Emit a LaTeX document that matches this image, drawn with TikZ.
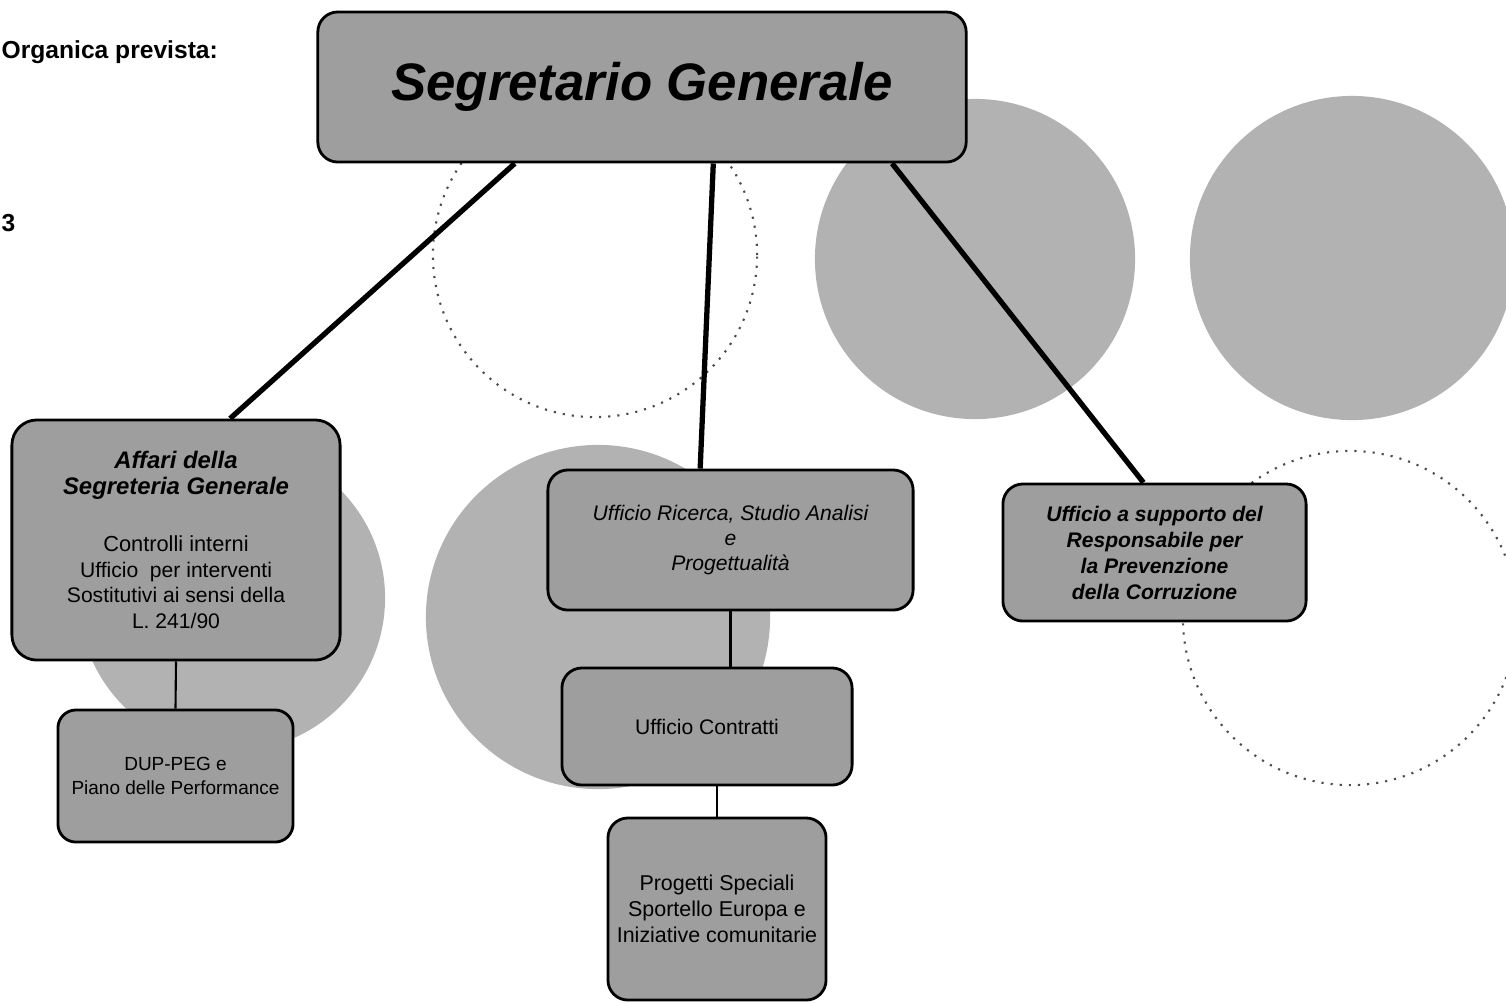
\documentclass[tikz,border=0pt]{standalone}
\usepackage{fontspec}
\setmainfont{Liberation Sans}
\begin{document}
\begin{tikzpicture}[x=0.01cm,y=-0.01cm,
    orgbox/.style={draw,line width=0.8pt,fill=black!38,rounded corners=0.2cm,
      align=center,inner sep=2pt,font=\fontsize{6}{7.3}\selectfont},
    clipart/.style={fill=black!30},
    emptyart/.style={draw=black!70,dotted,line width=0.6pt},
    mainlink/.style={line width=1.5pt},
    sublink/.style={line width=0.6pt}]
  \useasboundingbox (0,0) rectangle (1506,1002);
  \clip (0,0) rectangle (1506,1002);
  \node[anchor=west,inner sep=0pt,font=\bfseries\fontsize{7}{8}\selectfont] (orgtitle) at (1,52) {Organica prevista:};
  \node[anchor=west,inner sep=0pt,font=\bfseries\fontsize{7}{8}\selectfont] (cutnum) at (1,223) {3};
  \draw[emptyart] (595,255) circle (1.62cm);
  \draw[emptyart] (1350,618) circle (1.67cm);
  \fill[clipart] (975,259) circle (1.60cm);
  \fill[clipart] (1352,258) circle (1.62cm);
  \fill[clipart] (598,617) circle (1.72cm);
  \fill[clipart] (232,598) circle (1.53cm);
  \node[orgbox,minimum width=6.48cm,minimum height=1.50cm,
    font=\bfseries\itshape\fontsize{15}{18}\selectfont] (sg) at (642,87) {Segretario Generale};
  \node[orgbox,minimum width=3.28cm,minimum height=2.40cm,rounded corners=0.25cm] (aff) at (176,540)
    {\bfseries\itshape\fontsize{6.8}{8}\selectfont Affari della\\
     \bfseries\itshape\fontsize{6.8}{8}\selectfont Segreteria Generale\\[9pt]
     \mdseries\upshape\fontsize{6.2}{7.1}\selectfont Controlli interni\\
     Ufficio\ \ per interventi\\
     Sostitutivi ai sensi della\\
     L. 241/90};
  \node[orgbox,minimum width=2.35cm,minimum height=1.32cm,rounded corners=0.18cm,
    font=\fontsize{5.4}{6.6}\selectfont] (dup) at (175.5,776) {DUP-PEG e\\Piano delle Performance};
  \node[orgbox,minimum width=3.65cm,minimum height=1.40cm,
    font=\itshape\fontsize{6}{7.2}\selectfont] (ric) at (730.5,540) {Ufficio Ricerca, Studio Analisi\\e\\Progettualità};
  \node[orgbox,minimum width=2.90cm,minimum height=1.17cm] (con) at (707,726.5) {Ufficio Contratti};
  \node[orgbox,minimum width=2.18cm,minimum height=1.82cm,
    font=\fontsize{6.1}{7.4}\selectfont] (prog) at (717,909) {Progetti Speciali\\Sportello Europa e\\Iniziative comunitarie};
  \node[orgbox,minimum width=3.03cm,minimum height=1.37cm,
    font=\bfseries\itshape\fontsize{6}{7.4}\selectfont] (rpc) at (1154.5,552.5)
    {Ufficio a supporto del\\Responsabile per\\la Prevenzione\\della Corruzione};
  \begin{scope}[mainlink]
    \draw (sg.211.2) -- (aff.66.6);
    \draw (sg.-47) -- (ric.113.2);
    \draw (sg.-17.5) -- (rpc.99.5);
  \end{scope}
  \begin{scope}[sublink]
    \draw (aff.south) -- (dup.north);
    \draw (ric.south) -- (ric.south |- con.north);
    \draw (prog.north |- con.south) -- (prog.north);
  \end{scope}
\end{tikzpicture}
\end{document}
